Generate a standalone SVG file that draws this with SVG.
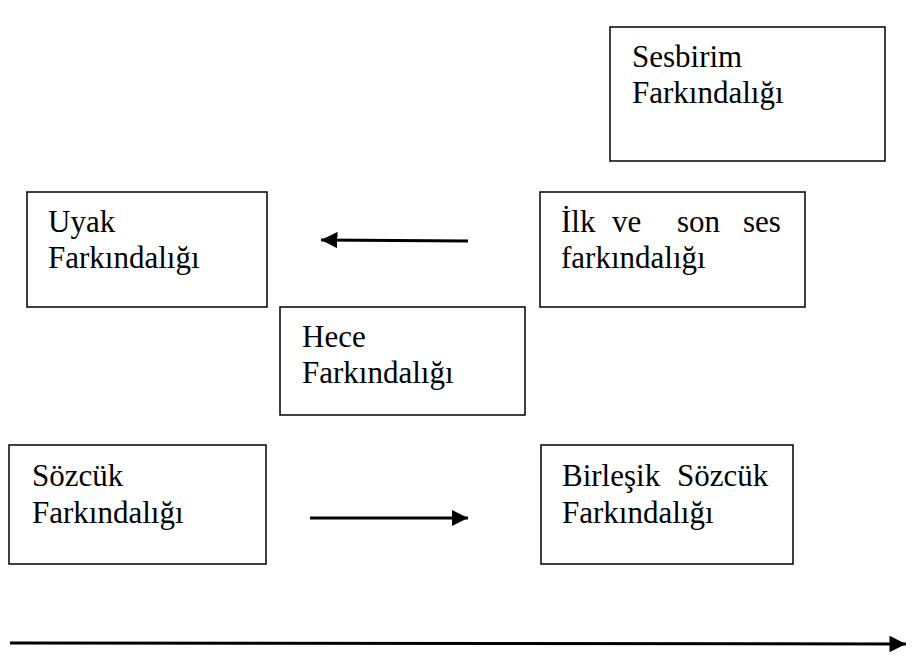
<svg xmlns="http://www.w3.org/2000/svg" width="913" height="658" viewBox="0 0 913 658">
<style>
.box{fill:#fff;stroke:#000;stroke-width:1.5}
.t{font-family:"Liberation Serif","Times New Roman",serif;font-size:31px;fill:#000}
.c{stroke:#000;stroke-width:3;fill:none}
</style>
<defs>
<marker id="ah" viewBox="0 0 10 10" refX="10" refY="5" markerWidth="5.5" markerHeight="5.5" markerUnits="strokeWidth" orient="auto">
<path d="M0,0 L10,5 L0,10 Z" fill="#000"/>
</marker>
</defs>
<rect width="913" height="658" fill="#fff"/>
<g id="sesbirim">
<rect class="box" x="610" y="27" width="275" height="134"/>
<text class="t" x="632" y="67">Sesbirim</text>
<text class="t" x="632" y="103">Farkındalığı</text>
</g>
<g id="uyak">
<rect class="box" x="27" y="192" width="240" height="115"/>
<text class="t" x="48" y="232">Uyak</text>
<text class="t" x="48" y="268">Farkındalığı</text>
</g>
<g id="ilk">
<rect class="box" x="540" y="192" width="265" height="115"/>
<text class="t" y="232"><tspan x="561">İlk</tspan><tspan x="612">ve</tspan><tspan x="677">son</tspan><tspan x="743">ses</tspan></text>
<text class="t" x="561" y="268">farkındalığı</text>
</g>
<g id="hece">
<rect class="box" x="280" y="307" width="245" height="108"/>
<text class="t" x="302" y="347">Hece</text>
<text class="t" x="302" y="383">Farkındalığı</text>
</g>
<g id="sozcuk">
<rect class="box" x="9" y="445" width="257" height="119"/>
<text class="t" x="32" y="486">Sözcük</text>
<text class="t" x="32" y="523">Farkındalığı</text>
</g>
<g id="birlesik">
<rect class="box" x="541" y="445" width="252" height="119"/>
<text class="t" y="486"><tspan x="562">Birleşik</tspan><tspan x="677">Sözcük</tspan></text>
<text class="t" x="562" y="523">Farkındalığı</text>
</g>
<g id="connectors">
<line class="c" x1="468" y1="241" x2="321" y2="240" marker-end="url(#ah)"/>
<line class="c" x1="310" y1="518" x2="468" y2="518" marker-end="url(#ah)"/>
<line class="c" x1="10" y1="643" x2="906" y2="644" marker-end="url(#ah)"/>
</g>
</svg>
